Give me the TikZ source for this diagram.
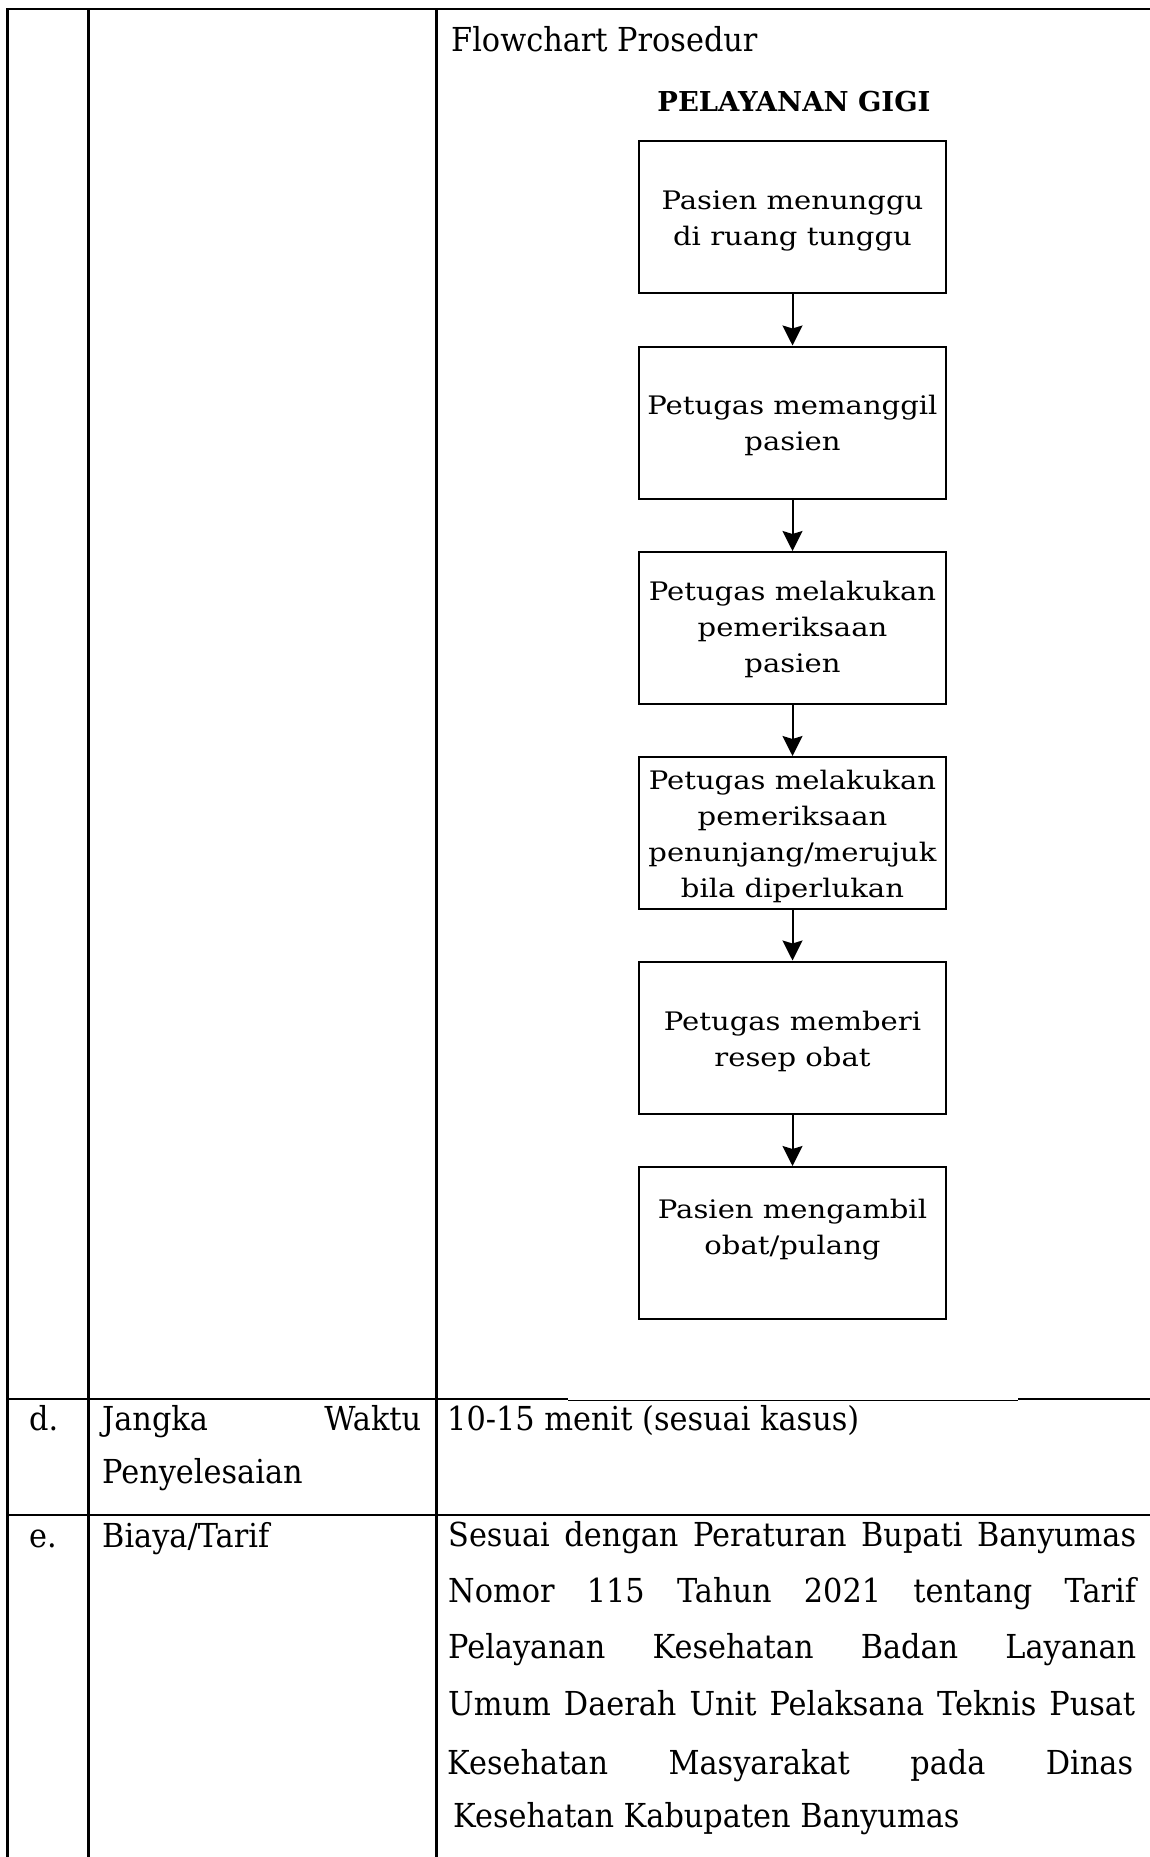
\documentclass[tikz,border=0pt]{standalone}
\usepackage{fontspec}
\setmainfont{DejaVu Serif}[FakeStretch=0.92]
\newfontfamily\boxfont{DejaVu Serif}[FakeStretch=1.14]
\newfontfamily\headfont{DejaVu Serif}
\usetikzlibrary{arrows.meta}
\newcommand{\boxlines}[1]{\begin{tabular}[t]{@{}c@{}}#1\end{tabular}}
\begin{document}
\begin{tikzpicture}[x=1pt,y=-1pt,
  rule/.style={line width=2.8pt},
  thinrule/.style={line width=1pt},
  stepbox/.style={draw, line width=2pt, minimum width=307pt, minimum height=152pt, inner sep=0pt},
  btext/.style={anchor=base, inner sep=0pt, font=\boxfont\fontsize{25.5}{36}\selectfont},
  ttext/.style={anchor=base west, inner sep=0pt, font=\fontsize{33}{56}\selectfont},
  flow/.style={line width=2pt, -{Stealth[length=20pt,width=20pt,inset=3pt]}}]
\fill[white] (0,0) rectangle (1150,1857);
\useasboundingbox (0,0) rectangle (1150,1857);

% table rules
\draw[rule] (6.3,9) -- (1150,9);
\draw[rule] (7.7,9) -- (7.7,1857);
\draw[rule] (88.5,9) -- (88.5,1857);
\draw[rule] (436.5,9) -- (436.5,1857);
\draw[rule] (7.7,1399) -- (568,1399);
\draw[thinrule] (568,1400) -- (1018,1400);
\draw[rule] (1018,1399) -- (1150,1399);
\draw[rule] (7.7,1515) -- (1150,1515);

% row c
\node[ttext] (fp) at (451,52) {Flowchart Prosedur};
\node[anchor=base, inner sep=0pt, font=\headfont\bfseries\fontsize{27.4}{30}\selectfont] (head) at (794,112) {PELAYANAN GIGI};

% flowchart boxes
\node[stepbox] (b1) at (792.5,217) {};
\node[stepbox] (b2) at (792.5,422.5) {};
\node[stepbox] (b3) at (792.5,628) {};
\node[stepbox] (b4) at (792.5,833) {};
\node[stepbox] (b5) at (792.5,1037.5) {};
\node[stepbox] (b6) at (792.5,1243) {};

\node[btext] (t1) at (792.5,209) {\boxlines{Pasien menunggu\\di ruang tunggu}};
\node[btext] (t2) at (792.5,414) {\boxlines{Petugas memanggil\\pasien}};
\node[btext] (t3) at (792.5,600) {\boxlines{Petugas melakukan\\pemeriksaan\\pasien}};
\node[btext] (t4) at (792.5,789) {\boxlines{Petugas melakukan\\pemeriksaan\\penunjang/merujuk\\bila diperlukan}};
\node[btext] (t5) at (792.5,1030) {\boxlines{Petugas memberi\\resep obat}};
\node[btext] (t6) at (792.5,1218) {\boxlines{Pasien mengambil\\obat/pulang}};

\draw[flow] (b1) -- (b2);
\draw[flow] (b2) -- (b3);
\draw[flow] (b3) -- (b4);
\draw[flow] (b4) -- (b5);
\draw[flow] (b5) -- (b6);

% row d
\node[ttext] (dl) at (29,1430) {d.};
\node[ttext] (dn1) at (102,1430) {\makebox[319pt][s]{Jangka Waktu}};
\node[ttext] (dn2) at (102,1483) {Penyelesaian};
\node[ttext] (dv) at (447,1430) {10-15 menit (sesuai kasus)};

% row e
\node[ttext] (el) at (29,1547) {e.};
\node[ttext] (en) at (102,1547) {Biaya/Tarif};
\node[ttext] (e1) at (448,1546) {\makebox[688pt][s]{Sesuai dengan Peraturan Bupati Banyumas}};
\node[ttext] (e2) at (448,1602) {\makebox[688pt][s]{Nomor 115 Tahun 2021 tentang Tarif}};
\node[ttext] (e3) at (448,1658) {\makebox[688pt][s]{Pelayanan Kesehatan Badan Layanan}};
\node[ttext] (e4) at (448,1715) {\makebox[687pt][s]{Umum Daerah Unit Pelaksana Teknis Pusat}};
\node[ttext] (e5) at (447,1774) {\makebox[686pt][s]{Kesehatan Masyarakat pada Dinas}};
\node[ttext] (e6) at (453,1827) {Kesehatan Kabupaten Banyumas};
\end{tikzpicture}
\end{document}
